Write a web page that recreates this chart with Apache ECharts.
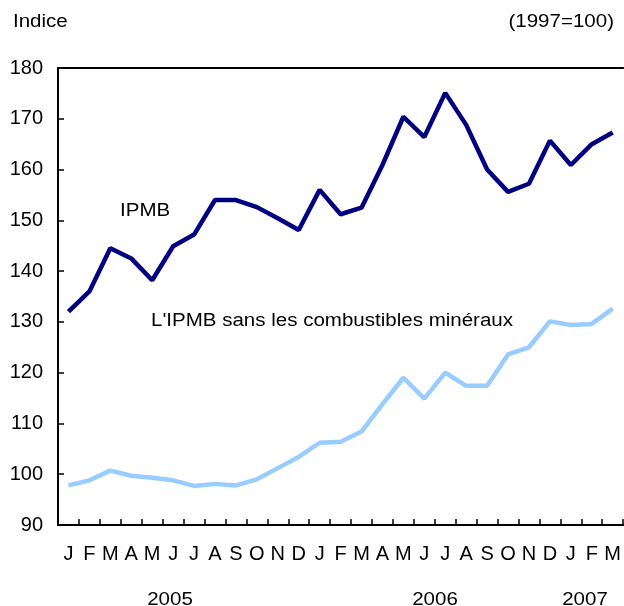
<!DOCTYPE html>
<html>
<head>
<meta charset="utf-8">
<script src="https://cdn.jsdelivr.net/npm/echarts@6/dist/echarts.min.js"></script>
<style>
html,body{margin:0;padding:0;background:#fff;}
#chart{width:624px;height:606px;}
</style>
</head>
<body>
<div id="chart"></div>
<script>
var months = ["J","F","M","A","M","J","J","A","S","O","N","D",
              "J","F","M","A","M","J","J","A","S","O","N","D",
              "J","F","M"];
var ipmb = [132.0,136.0,144.5,142.5,138.2,144.9,147.2,154.0,154.0,152.6,150.4,148.1,
            156.0,151.2,152.5,160.9,170.4,166.4,175.1,168.8,160.0,155.6,157.2,165.7,
            160.9,165.0,167.3];
var ipmbSansComb = [97.8,98.8,100.7,99.7,99.3,98.8,97.7,98.1,97.8,99.0,101.2,103.4,
            106.2,106.4,108.4,113.8,119.0,114.9,120.0,117.4,117.4,123.6,125.0,130.1,
            129.4,129.6,132.6];
var yMin = 90, yMax = 180, yStep = 10;
var yearLabels = ["2005","2006","2007"];

var chart = echarts.init(document.getElementById('chart'));
var font = '"Liberation Sans", Arial, Helvetica, sans-serif';
var sx = 1.14;
function txt(x, y, s, align, va) {
  return {type: 'text', x: x, y: y, scaleX: sx, scaleY: 1,
          style: {text: s, font: '18px ' + font, fill: '#000', align: align || 'left', verticalAlign: va || 'top'}};
}
chart.setOption({
  animation: false,
  backgroundColor: '#fff',
  textStyle: {fontFamily: font},
  grid: {left: 58, top: 68, width: 567, bottom: 81, containLabel: false},
  xAxis: [{
    type: 'category',
    data: months,
    boundaryGap: true,
    axisLine: {lineStyle: {color: '#000', width: 2}},
    axisTick: {show: true, inside: true, length: 6, interval: 0, lineStyle: {color: '#000', width: 1.5}},
    axisLabel: {interval: 0, color: '#000', fontSize: 20, margin: 19, fontFamily: font},
    splitLine: {show: false}
  },{
    type: 'category',
    position: 'top',
    data: months,
    axisLine: {lineStyle: {color: '#000', width: 2}},
    axisTick: {show: false},
    axisLabel: {show: false}
  }],
  yAxis: {
    type: 'value',
    min: yMin, max: yMax, interval: yStep,
    axisLine: {show: true, lineStyle: {color: '#000', width: 2}},
    axisTick: {show: true, inside: true, length: 6, lineStyle: {color: '#000', width: 1.5}},
    axisLabel: {color: '#000', fontSize: 20, margin: 15, fontFamily: font},
    splitLine: {show: false}
  },
  series: [{
    name: 'IPMB',
    type: 'line',
    data: ipmb,
    symbol: 'none',
    lineStyle: {color: '#000080', width: 4.5},
    z: 3
  },{
    name: "L'IPMB sans les combustibles minéraux",
    type: 'line',
    data: ipmbSansComb,
    symbol: 'none',
    lineStyle: {color: '#99ccff', width: 4.5},
    z: 2
  }],
  graphic: [
    txt(13, 13, 'Indice'),
    txt(614, 13, '(1997=100)', 'right'),
    txt(120, 202, 'IPMB'),
    txt(151, 312, "L'IPMB sans les combustibles minéraux"),
    txt(170, 600, yearLabels[0], 'center', 'middle'),
    txt(435, 600, yearLabels[1], 'center', 'middle'),
    txt(585, 600, yearLabels[2], 'center', 'middle')
  ]
});
</script>
</body>
</html>
